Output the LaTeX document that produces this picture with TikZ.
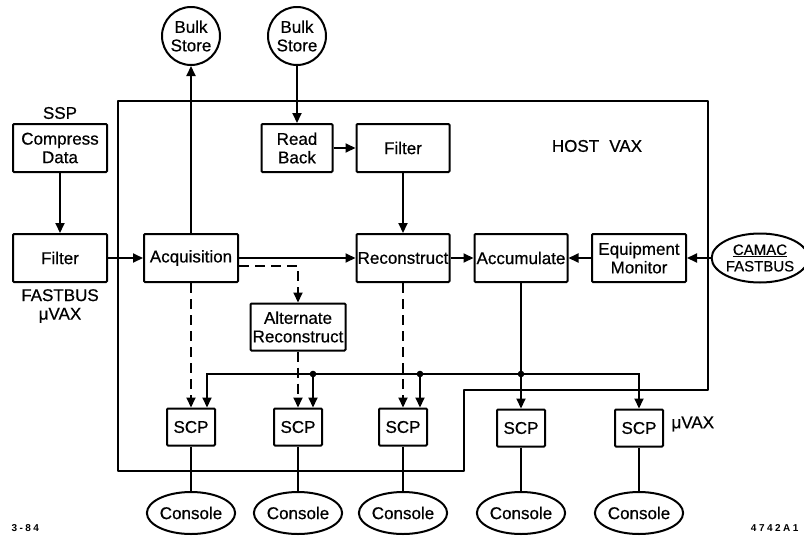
\documentclass[tikz,border=0pt]{standalone}
\usepackage{fontspec}
\setmainfont{Liberation Sans}[FakeBold=0.6]
\newfontfamily\tagfont{Liberation Sans Bold}[LetterSpace=25]
\usetikzlibrary{arrows.meta,calc,shapes.geometric}
\begin{document}
\begin{tikzpicture}[x=1pt,y=-1pt,
  every node/.style={font=\fontsize{17}{18.5}\selectfont, align=center},
  blk/.style={draw, line width=2pt, rounded corners=1pt, inner sep=1pt},
  circ/.style={draw, circle, line width=2pt, minimum size=58pt, inner sep=0pt},
  oval/.style={draw, ellipse, line width=2pt, inner sep=0pt},
  ln/.style={line width=2pt},
  arr/.style={line width=2pt, -{Triangle[length=10pt,width=9pt]}},
  darr/.style={arr, dash pattern=on 10pt off 6pt},
  small/.style={font=\fontsize{10}{11}\selectfont\tagfont}
]
\useasboundingbox (0,0) rectangle (804,536);

% host box
\draw[ln, line join=round] (118,101) -- (708,101) -- (708,390) -- (464,390) -- (464,471) -- (118,471) -- cycle;
\node (host) at (597,146) {HOST\hspace{0.6em}VAX};

% bulk stores
\node[circ] (bulk1) at (191,36) {Bulk\\Store};
\node[circ] (bulk2) at (297,36) {Bulk\\Store};

% left side
\node (ssp) at (60,113) {SSP};
\node[blk, minimum width=94pt, minimum height=48pt] (compress) at (60,148) {Compress\\Data};
\node[blk, minimum width=94pt, minimum height=48pt] (filt1) at (60,258) {Filter};
\node (fbus) at (60,306) {FASTBUS\\μVAX};

% main row
\node[blk, minimum width=94pt, minimum height=48pt] (acq) at (191,258) {Acquisition};
\node[blk, minimum width=71pt, minimum height=48pt] (readback) at (297,148) {Read\\Back};
\node[blk, minimum width=93pt, minimum height=48pt] (filt2) at (403,148) {Filter};
\node[blk, minimum width=93pt, minimum height=48pt] (recon) at (403,258) {Reconstruct};
\node[blk, minimum width=93pt, minimum height=48pt] (accum) at (521,258) {Accumulate};
\node[blk, minimum width=94pt, minimum height=48pt] (equip) at (639,258) {Equipment\\Monitor};
\node[oval, minimum width=84pt, minimum height=49pt, font=\fontsize{15}{16.5}\selectfont] (camac) at (760,258) {\underline{CAMAC}\\FASTBUS};
\node[blk, minimum width=95pt, minimum height=47pt] (altrec) at (298,327) {Alternate\\Reconstruct};

% SCPs
\node[blk, minimum width=48pt, minimum height=37pt] (scp1) at (191,427) {SCP};
\node[blk, minimum width=48pt, minimum height=37pt] (scp2) at (298,427) {SCP};
\node[blk, minimum width=48pt, minimum height=37pt] (scp3) at (403,427) {SCP};
\node[blk, minimum width=48pt, minimum height=37pt] (scp4) at (521,428) {SCP};
\node[blk, minimum width=48pt, minimum height=37pt] (scp5) at (639,428) {SCP};
\node[anchor=west] (mv2) at (668,424) {μVAX};

% consoles
\node[oval, minimum width=72pt, minimum height=42pt] (con1) at (191,513) {Console};
\node[oval, minimum width=72pt, minimum height=42pt] (con2) at (298,513) {Console};
\node[oval, minimum width=72pt, minimum height=42pt] (con3) at (403,513) {Console};
\node[oval, minimum width=72pt, minimum height=42pt] (con4) at (521,513) {Console};
\node[oval, minimum width=72pt, minimum height=42pt] (con5) at (639,513) {Console};

% corner labels
\node[small, anchor=west] (d1) at (8,528) {3-84};
\node[small, anchor=east] (d2) at (802,528) {4742A1};

% connectors
\draw[arr] (acq.north) -- (bulk1.south);
\draw[arr] (bulk2.south) -- (readback.north);
\draw[arr] (readback.east) -- (filt2.west);
\draw[arr] (compress.south) -- (filt1.north);
\draw[arr] (filt1.east) -- (acq.west);
\draw[arr] (acq.east) -- (recon.west);
\draw[arr] (filt2.south) -- (recon.north);
\draw[arr] (recon.east) -- (accum.west);
\draw[arr] (equip.west) -- (accum.east);
\draw[arr] (camac.west) -- (equip.east);

% dashed
\draw[darr] ($(acq.east)+(0,8)$) -| (altrec.north);
\draw[darr] (acq.south) -- (scp1.north);
\draw[darr] (altrec.south) -- (scp2.north);
\draw[darr] (recon.south) -- (scp3.north);

% bus
\coordinate (j2) at (313,374);
\coordinate (j3) at (420,374);
\coordinate (j4) at (521,374);
\draw[arr] (j4) -| ($(scp1.north)+(16,0)$);
\draw[arr] (j4) -| (scp5.north);
\draw[arr] (j2) -- (j2 |- scp2.north);
\draw[arr] (j3) -- (j3 |- scp3.north);
\draw[arr] (accum.south) -- (scp4.north);
\fill (j2) circle (3.3pt);
\fill (j3) circle (3.3pt);
\fill (j4) circle (3.3pt);

% SCP to consoles
\draw[ln] (scp1.south) -- (con1.north);
\draw[ln] (scp2.south) -- (con2.north);
\draw[ln] (scp3.south) -- (con3.north);
\draw[ln] (scp4.south) -- (con4.north);
\draw[ln] (scp5.south) -- (con5.north);
\end{tikzpicture}
\end{document}
